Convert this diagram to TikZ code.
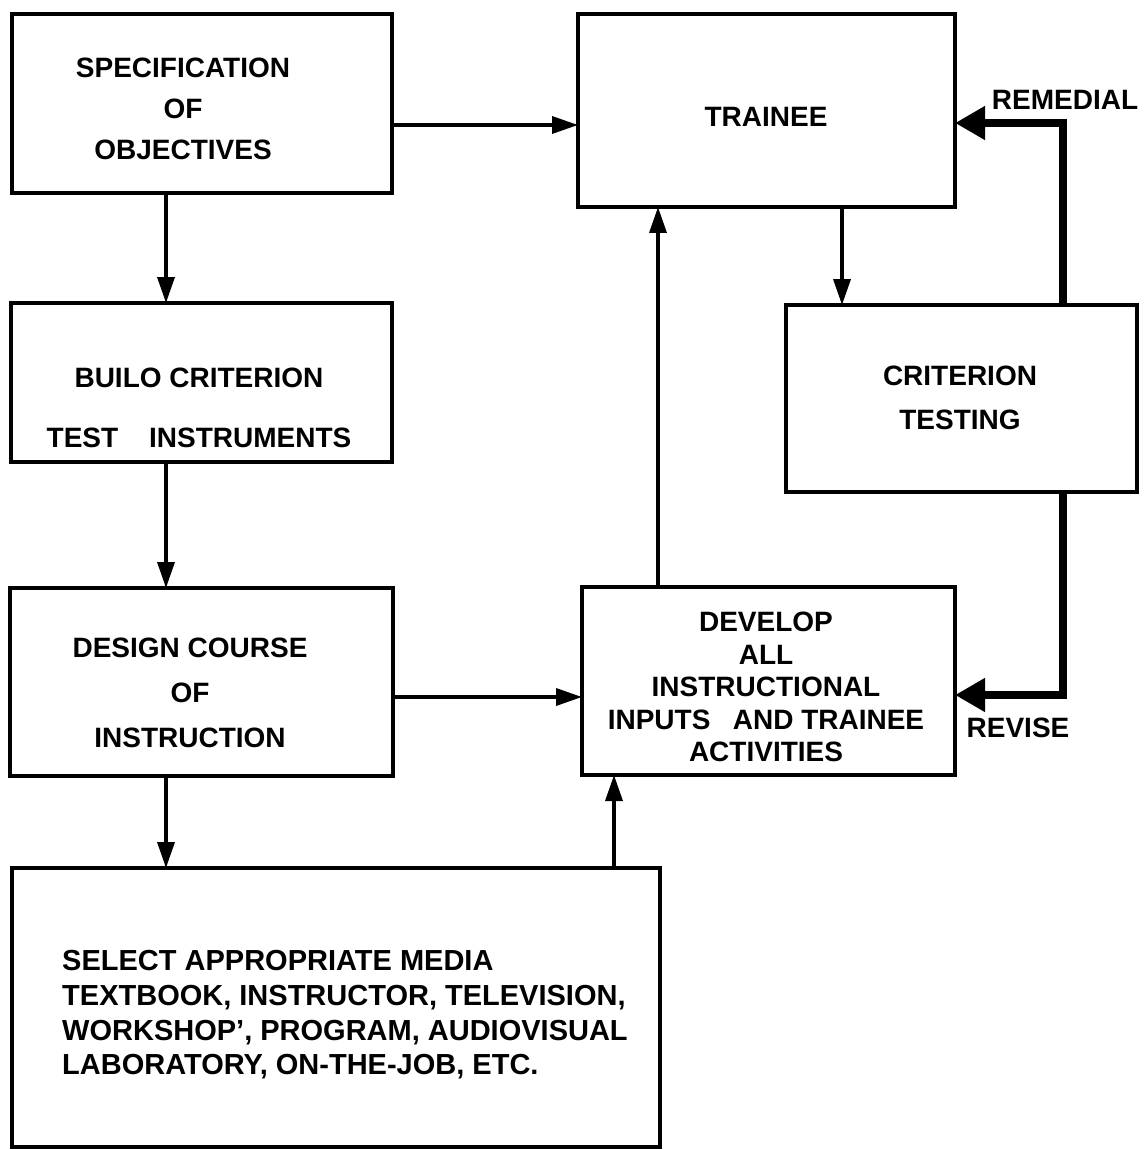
\documentclass[tikz,border=0pt]{standalone}
\usepackage{fontspec}
\setmainfont{Liberation Sans}
\usetikzlibrary{arrows.meta}
\begin{document}
\begin{tikzpicture}[x=1pt,y=-1pt,
  box/.style={draw, line width=4pt, outer sep=0pt, inner sep=0pt},
  txt/.style={font=\bfseries\fontsize{28}{34}\selectfont, align=center, inner sep=0pt},
  arr/.style={line width=3.5pt, -{Triangle[length=26pt,width=17pt]}},
  fb/.style={line width=8.5pt, line join=miter, -{Triangle[length=30pt,width=32pt]}}]
\useasboundingbox (0,0) rectangle (1143,1150);

% boxes
\node[box, minimum width=380pt, minimum height=179pt] (spec)    at (202,103.5) {};
\node[box, minimum width=377pt, minimum height=193pt] (trainee) at (766.5,110.5) {};
\node[box, minimum width=381pt, minimum height=159pt] (build)   at (201.5,382.5) {};
\node[box, minimum width=351pt, minimum height=187pt] (crit)    at (961.5,398.5) {};
\node[box, minimum width=383pt, minimum height=188pt] (design)  at (201.5,682) {};
\node[box, minimum width=373pt, minimum height=188pt] (develop) at (768.5,681) {};
\node[box, minimum width=648pt, minimum height=279pt] (select)  at (336,1007.5) {};

% box texts
\node[txt, font=\bfseries\fontsize{28}{41}\selectfont] (spect) at (183,109)
  {SPECIFICATION\\OF\\OBJECTIVES};
\node[txt] (traineet) at (766,117) {TRAINEE};
\node[txt, font=\bfseries\fontsize{28}{60}\selectfont] (buildt) at (199,408)
  {BUILO CRITERION\\TEST\hspace{1.1em}INSTRUMENTS};
\node[txt, font=\bfseries\fontsize{28}{44}\selectfont] (critt) at (960,398)
  {CRITERION\\TESTING};
\node[txt, font=\bfseries\fontsize{28}{45}\selectfont] (designt) at (190,693)
  {DESIGN COURSE\\OF\\INSTRUCTION};
\node[txt, font=\bfseries\fontsize{28}{32.5}\selectfont] (developt) at (766,687)
  {DEVELOP\\ALL\\INSTRUCTIONAL\\INPUTS\hspace{0.8em}AND TRAINEE\\ACTIVITIES};
\node[txt, align=left, anchor=west, font=\bfseries\fontsize{29}{34.7}\selectfont] (selectt) at (62,1015)
  {SELECT APPROPRIATE MEDIA\\TEXTBOOK, INSTRUCTOR, TELEVISION,\\WORKSHOP’, PROGRAM, AUDIOVISUAL\\LABORATORY, ON-THE-JOB, ETC.};

% feedback labels
\node[txt] (remlab) at (1065,100) {REMEDIAL};
\node[txt] (revlab) at (1018,728) {REVISE};

% connector columns and rows
\coordinate (colA) at (166,0);
\coordinate (colB) at (614,0);
\coordinate (colC) at (658,0);
\coordinate (colD) at (842,0);
\coordinate (rowA) at (0,125);
\coordinate (rowB) at (0,697);
\coordinate (remcorner) at (1063,123);
\coordinate (revcorner) at (1063,695);

% flow connectors
\draw[arr] (spec.east |- rowA) -- (trainee.west |- rowA);
\draw[arr] (spec.south -| colA) -- (build.north -| colA);
\draw[arr] (build.south -| colA) -- (design.north -| colA);
\draw[arr] (design.south -| colA) -- (select.north -| colA);
\draw[arr] (design.east |- rowB) -- (develop.west |- rowB);
\draw[arr] (select.north -| colB) -- (develop.south -| colB);
\draw[arr] (develop.north -| colC) -- (trainee.south -| colC);
\draw[arr] (trainee.south -| colD) -- (crit.north -| colD);

% feedback loops
\draw[fb] (remcorner |- crit.north) -- (remcorner) -- (remcorner -| trainee.east);
\draw[fb] (revcorner |- crit.south) -- (revcorner) -- (revcorner -| develop.east);
\end{tikzpicture}
\end{document}
